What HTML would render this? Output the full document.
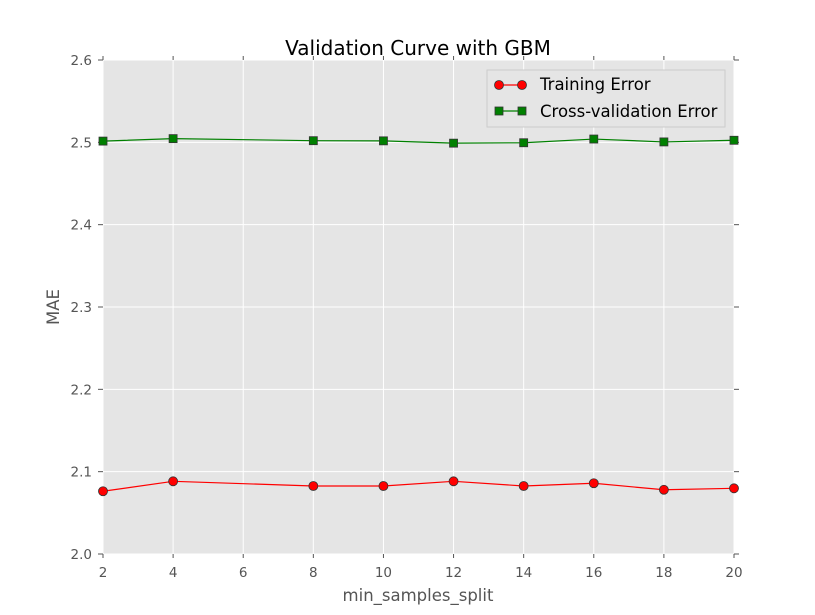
<!DOCTYPE html>
<html><head><meta charset="utf-8"><style>body{margin:0;background:#fff}svg{display:block;font-family:"DejaVu Sans","Liberation Sans",sans-serif}</style></head>
<body>
<svg id="chart" width="815" height="615" viewBox="0 0 815 615" xmlns="http://www.w3.org/2000/svg">
<rect width="815" height="615" fill="#fff"/>
<rect x="103" y="60" width="631" height="494" fill="#e5e5e5"/>
<g id="grid"></g><g id="ticks"></g><g id="series"></g>
<text x="418" y="55" text-anchor="middle" font-size="20" fill="#000">Validation Curve with GBM</text>
<text x="418" y="601" text-anchor="middle" font-size="16.5" fill="#555">min_samples_split</text>
<text transform="translate(59,307) rotate(-90)" text-anchor="middle" font-size="16.5" fill="#555">MAE</text>
<g>
<rect x="487" y="70" width="238" height="57" fill="#e5e5e5" stroke="#ccc"/>
<g>
<line x1="499" y1="85" x2="522" y2="85" stroke="red" stroke-width="1.2"/>
<circle cx="499" cy="85" r="4.5" fill="red" stroke="#333" stroke-width="0.8"/><circle cx="522" cy="85" r="4.5" fill="red" stroke="#333" stroke-width="0.8"/>
<text x="540" y="90" font-size="16.5">Training Error</text></g>
<g>
<line x1="499" y1="111" x2="522" y2="111" stroke="green" stroke-width="1.2"/>
<rect x="495" y="107" width="8" height="8" fill="green" stroke="#333" stroke-width="0.8"/><rect x="518" y="107" width="8" height="8" fill="green" stroke="#333" stroke-width="0.8"/>
<text x="540" y="117" font-size="16.5">Cross-validation Error</text></g>
</g>
</svg>
<script>
const xValues=[2,4,8,10,12,14,16,18,20];
const trainingError=[2.0762,2.0883,2.0826,2.0826,2.0883,2.0826,2.0859,2.0780,2.0798];
const cvError=[2.5015,2.5045,2.5020,2.5018,2.4990,2.4995,2.5040,2.5005,2.5025];
const xTicks=[2,4,6,8,10,12,14,16,18,20];
const yTicks=[2.0,2.1,2.2,2.3,2.4,2.5,2.6];
const NS="http://www.w3.org/2000/svg";
const X=v=>103+(v-2)/18*631;
const Y=v=>554-(v-2.0)/0.6*494;
function mk(p,t,a){const e=document.createElementNS(NS,t);for(const k in a)e.setAttribute(k,a[k]);p.appendChild(e);return e;}
const grid=document.getElementById('grid'),ticks=document.getElementById('ticks'),ser=document.getElementById('series');
xTicks.forEach(v=>{const x=X(v);
const g=mk(grid,'line',{x1:x,x2:x,y1:60,y2:554,stroke:'#fff','stroke-width':1});

mk(ticks,'line',{x1:x,x2:x,y1:554,y2:558,stroke:'#555'});mk(ticks,'line',{x1:x,x2:x,y1:60,y2:56,stroke:'#555'});
const t=mk(ticks,'text',{x:x,y:577,'text-anchor':'middle','font-size':13.5,fill:'#555'});t.textContent=v;
});
yTicks.forEach(v=>{const y=Y(v);
const g=mk(grid,'line',{x1:103,x2:734,y1:y,y2:y,stroke:'#fff','stroke-width':1});

mk(ticks,'line',{x1:98,x2:103,y1:y,y2:y,stroke:'#555'});mk(ticks,'line',{x1:734,x2:739,y1:y,y2:y,stroke:'#555'});
const t=mk(ticks,'text',{x:92,y:y+5,'text-anchor':'end','font-size':13.5,fill:'#555'});t.textContent=v.toFixed(1);
});
function series(vals,color,shape,name){
const pl=mk(ser,'polyline',{points:vals.map((v,i)=>X(xValues[i])+','+Y(v)).join(' '),fill:'none',stroke:color,'stroke-width':1.2});

vals.forEach((v,i)=>{const x=X(xValues[i]),y=Y(v);let m;
if(shape==='c')m=mk(ser,'circle',{cx:x,cy:y,r:4.5,fill:color,stroke:'#333','stroke-width':0.8});
else m=mk(ser,'rect',{x:x-4,y:y-4,width:8,height:8,fill:color,stroke:'#333','stroke-width':0.8});
});}
series(trainingError,'red','c','training-error');
series(cvError,'green','s','cv-error');
</script>
</body></html>
